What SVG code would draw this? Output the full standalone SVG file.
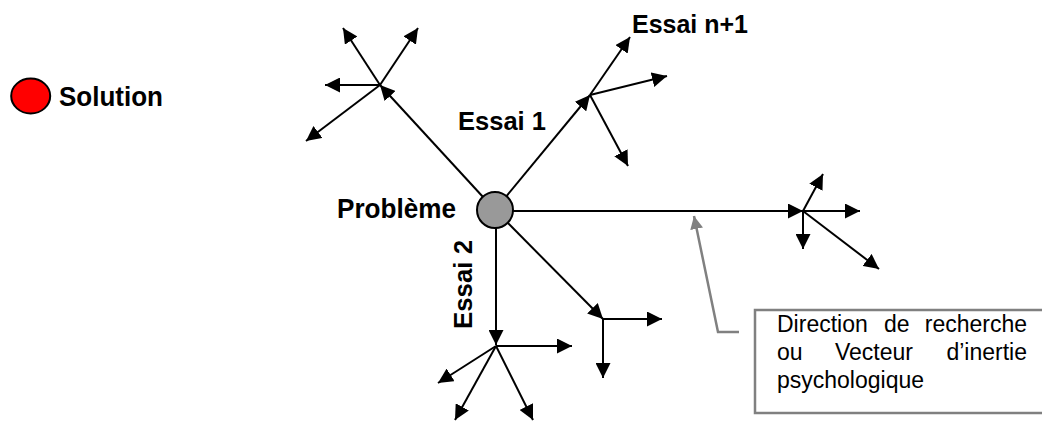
<svg xmlns="http://www.w3.org/2000/svg" width="1042" height="421" viewBox="0 0 1042 421">
<style>
.a{stroke:#000;stroke-width:2;fill:none;marker-end:url(#ah)}
.lbl{font-family:"Liberation Sans",Arial,sans-serif;font-weight:bold;font-size:26px;fill:#000}
.big{font-size:28px}
.note{font-family:"Liberation Sans",Arial,sans-serif;font-size:23px;fill:#000}
</style>
<defs>
<marker id="ah" markerUnits="userSpaceOnUse" markerWidth="15" markerHeight="15" refX="15" refY="7.5" orient="auto"><path d="M0,0 L15,7.5 L0,15 z" fill="#000"/></marker>
<marker id="gh" markerUnits="userSpaceOnUse" markerWidth="13" markerHeight="13" refX="13" refY="6.5" orient="auto"><path d="M0,0 L13,6.5 L0,13 z" fill="#808080"/></marker>
</defs>
<rect width="1042" height="421" fill="#fff"/>
<g id="connectors">
<line class="a" x1="482.8" y1="196.8" x2="380" y2="85"/>
<line class="a" x1="506.5" y1="196.1" x2="590" y2="95"/>
<line class="a" x1="513" y1="211" x2="803" y2="211"/>
<line class="a" x1="496" y1="228" x2="496" y2="345"/>
<line class="a" x1="507.7" y1="222.8" x2="603" y2="319"/>
<line class="a" x1="380" y1="85" x2="343" y2="28"/>
<line class="a" x1="380" y1="85" x2="418" y2="28"/>
<line class="a" x1="380" y1="85" x2="325" y2="85"/>
<line class="a" x1="380" y1="85" x2="306" y2="141"/>
<line class="a" x1="590" y1="95" x2="630" y2="37"/>
<line class="a" x1="590" y1="95" x2="667" y2="76"/>
<line class="a" x1="590" y1="95" x2="628" y2="166"/>
<line class="a" x1="803" y1="211" x2="823" y2="174"/>
<line class="a" x1="803" y1="211" x2="860" y2="211"/>
<line class="a" x1="803" y1="211" x2="803" y2="249"/>
<line class="a" x1="803" y1="211" x2="879" y2="269"/>
<line class="a" x1="496" y1="346" x2="572" y2="346"/>
<line class="a" x1="496" y1="346" x2="438" y2="383"/>
<line class="a" x1="496" y1="346" x2="455" y2="420"/>
<line class="a" x1="496" y1="346" x2="533" y2="420"/>
<line class="a" x1="603" y1="319" x2="662" y2="319"/>
<line class="a" x1="603" y1="319" x2="603" y2="378"/>
<polyline points="739,332 718,332 694,216" fill="none" stroke="#808080" stroke-width="2.5" marker-end="url(#gh)"/>
</g>
<g id="solution">
<ellipse cx="30.7" cy="96" rx="19.5" ry="17.5" fill="#ff0000" stroke="#000" stroke-width="2"/>
<text class="lbl big" x="59" y="106" textLength="104" lengthAdjust="spacingAndGlyphs">Solution</text>
</g>
<g id="probleme">
<circle cx="495" cy="210" r="18" fill="#999" stroke="#000" stroke-width="2"/>
<text class="lbl big" x="337" y="218" textLength="119" lengthAdjust="spacingAndGlyphs">Problème</text>
</g>
<g id="essai1"><text class="lbl" x="458" y="130" textLength="88" lengthAdjust="spacingAndGlyphs">Essai 1</text></g>
<g id="essain1"><text class="lbl" x="632" y="33" textLength="116" lengthAdjust="spacingAndGlyphs">Essai n+1</text></g>
<g id="essai2"><text class="lbl" transform="translate(472,329) rotate(-90)" x="0" y="0" textLength="89" lengthAdjust="spacingAndGlyphs">Essai 2</text></g>
<g id="note">
<rect x="755" y="310" width="300" height="103" fill="#fff" stroke="#808080" stroke-width="2.5"/>
<text class="note" y="332"><tspan x="777">Direction</tspan><tspan x="884">de</tspan><tspan x="1027" text-anchor="end">recherche</tspan></text>
<text class="note" y="360"><tspan x="777">ou</tspan><tspan x="835">Vecteur</tspan><tspan x="1027" text-anchor="end">d’inertie</tspan></text>
<text class="note" x="777" y="388">psychologique</text>
</g>
</svg>
